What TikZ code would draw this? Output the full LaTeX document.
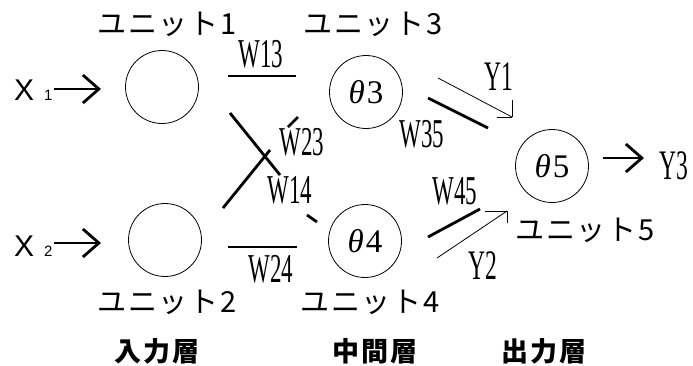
\documentclass[tikz,border=0pt]{standalone}
\usepackage{fontspec}
\usetikzlibrary{arrows.meta}
\newfontfamily\jpfont[LetterSpace=6]{Noto Sans CJK JP}
\newfontfamily\jplayer[LetterSpace=8]{Noto Sans CJK JP}
\newfontfamily\lfont[FakeStretch=0.56]{Liberation Serif}
\newfontfamily\tfont{Liberation Serif}
\newfontfamily\xfont{Liberation Sans}
\tikzset{
  unit/.style={circle, draw, line width=0.8pt, minimum size=73pt, inner sep=0pt,
    font=\tfont\fontsize{33}{33}\selectfont},
  wline/.style={line width=2.8pt},
  thinarrow/.style={line width=0.8pt},
  inarrow/.style={line width=2.8pt, -{Straight Barb[length=16pt,width=28pt]}},
  wlab/.style={inner sep=0pt, font=\lfont\fontsize{41}{41}\selectfont},
  ylab/.style={inner sep=0pt, font=\lfont\fontsize{42}{42}\selectfont},
  unitlab/.style={inner sep=0pt, font=\jpfont\fontsize{29}{29}\selectfont},
  layerlab/.style={inner sep=0pt, font=\jplayer\bfseries\fontsize{27}{27}\selectfont},
  xlab/.style={inner sep=0pt, anchor=west, font=\xfont\fontsize{30}{30}\selectfont}
}
\begin{document}
\begin{tikzpicture}[x=1pt,y=-1pt]
\useasboundingbox (0,0) rectangle (693,365);
% units
\node[unit] (u1) at (162,87) {};
\node[unit] (u2) at (165,240) {};
\node[unit] (u3) at (366,92) {{\itshape θ}\hspace{2pt}3};
\node[unit] (u4) at (365,241) {{\itshape θ}\hspace{2pt}4};
\node[unit] (u5) at (552,166) {{\itshape θ}\hspace{2pt}5};
% unit labels
\node[unitlab] (l1) at (167,24) {ユニット1};
\node[unitlab] (l3) at (373,24) {ユニット3};
\node[unitlab] (l2) at (167,302) {ユニット2};
\node[unitlab] (l4) at (370,302) {ユニット4};
\node[unitlab] (l5) at (585,230) {ユニット5};
% layer labels
\node[layerlab] (ly1) at (157,351) {入力層};
\node[layerlab] (ly2) at (375,351) {中間層};
\node[layerlab] (ly3) at (544,351) {出力層};
% inputs
\node[xlab] (x1) at (14,90) {X\hspace{10pt}{\fontsize{15}{15}\selectfont 1}};
\node[xlab] (x2) at (14,246) {X\hspace{10pt}{\fontsize{15}{15}\selectfont 2}};
\coordinate (a1s) at (54,89); \coordinate (a1e) at (101,89);
\coordinate (a2s) at (54,243); \coordinate (a2e) at (101,243);
\draw[inarrow] (a1s) -- (a1e);
\draw[inarrow] (a2s) -- (a2e);
% output
\coordinate (a3s) at (603,158); \coordinate (a3e) at (644,158);
\draw[inarrow] (a3s) -- (a3e);
\node[ylab] (y3) at (674,166) {Y3};
% weight segments
\coordinate (w13a) at (228,76); \coordinate (w13b) at (296,76);
\coordinate (w24a) at (228,247); \coordinate (w24b) at (297,247);
\coordinate (w14a) at (230,113); \coordinate (w14b) at (280,175);
\coordinate (w14c) at (307,215); \coordinate (w14d) at (317,222);
\coordinate (w23a) at (223,208); \coordinate (w23b) at (270,150);
\coordinate (w23c) at (288,127); \coordinate (w23d) at (298,117);
\coordinate (w35a) at (428,98); \coordinate (w35b) at (488,128);
\coordinate (w45a) at (428,237); \coordinate (w45b) at (480,209);
\draw[wline] (w13a) -- (w13b);
\draw[wline] (w24a) -- (w24b);
\draw[wline] (w14a) -- (w14b);
\draw[wline] (w14c) -- (w14d);
\draw[wline] (w23a) -- (w23b);
\draw[wline] (w23c) -- (w23d);
\draw[wline] (w35a) -- (w35b);
\draw[wline] (w45a) -- (w45b);
\node[wlab] (t13) at (261,54) {W13};
\node[wlab] (t24) at (271,269) {W24};
\node[wlab] (t23) at (302,142) {W23};
\node[wlab] (t14) at (290,190) {W14};
\node[wlab] (t35) at (422,134) {W35};
\node[wlab] (t45) at (455,191) {W45};
% Y1, Y2 arrows
\coordinate (y1s) at (438,78); \coordinate (y1e) at (512,117);
\draw[thinarrow] (y1s) -- (y1e);
\draw[thinarrow] (y1e) -- ++(0,-17);
\draw[thinarrow] (y1e) -- ++(-15,0);
\node[ylab] (ty1) at (499,77) {Y1};
\coordinate (y2s) at (437,258); \coordinate (y2e) at (507,211);
\draw[thinarrow] (y2s) -- (y2e);
\draw[thinarrow] (y2e) -- ++(-22,0);
\draw[thinarrow] (y2e) -- ++(0,12);
\node[ylab] (ty2) at (483,266) {Y2};
\end{tikzpicture}
\end{document}
